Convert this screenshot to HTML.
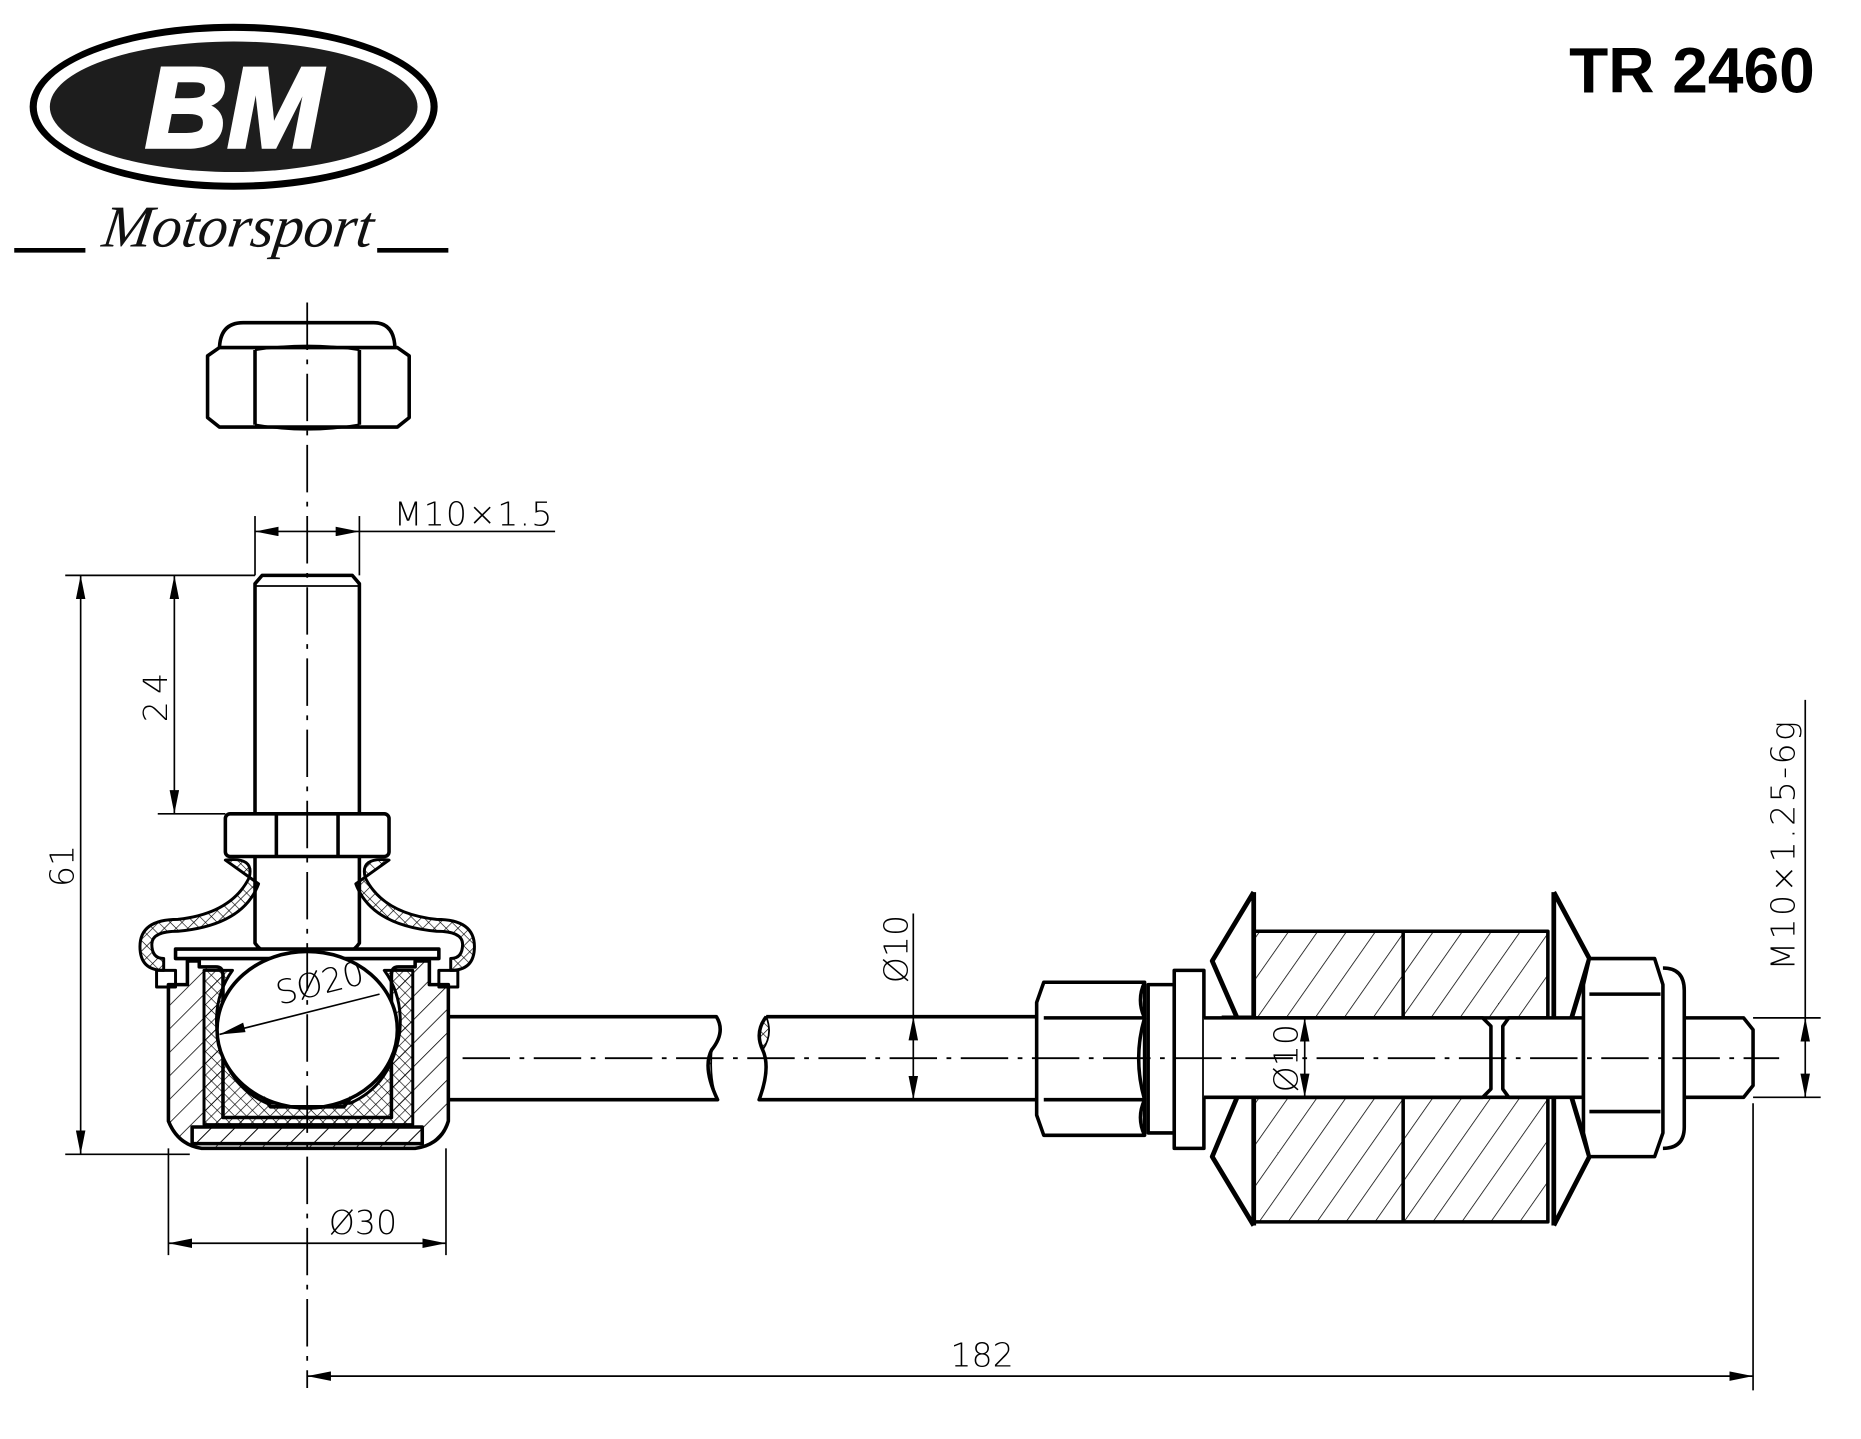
<!DOCTYPE html>
<html><head><meta charset="utf-8"><style>
html,body{margin:0;padding:0;background:#fff;}
svg{display:block;}
text{font-family:"DejaVu Sans","Liberation Sans",sans-serif;}
</style></head><body>
<svg width="1861" height="1439" viewBox="0 0 1569 1213" preserveAspectRatio="none" xmlns="http://www.w3.org/2000/svg">
<defs>
<pattern id="h" patternUnits="userSpaceOnUse" width="14" height="14" patternTransform="rotate(45)"><line x1="0" y1="0" x2="0" y2="14" stroke="#000" stroke-width="1.3"/></pattern>
<pattern id="h2" patternUnits="userSpaceOnUse" width="20" height="20" patternTransform="rotate(35)"><line x1="0" y1="0" x2="0" y2="20" stroke="#000" stroke-width="1.3"/></pattern>
<pattern id="x" patternUnits="userSpaceOnUse" width="7" height="7" patternTransform="rotate(45)"><path d="M0 0V7M0 0H7" stroke="#000" stroke-width="1.1"/></pattern>
<marker id="a" viewBox="0 0 20 8" refX="20" refY="4" markerWidth="20" markerHeight="8" orient="auto-start-reverse" markerUnits="userSpaceOnUse"><path d="M0 0L20 4L0 8z" fill="#000"/></marker>
</defs>

<!-- Logo -->
<ellipse cx="197" cy="90" rx="172" ry="70" fill="#000"/>
<ellipse cx="197" cy="90" rx="166" ry="64" fill="#fff"/>
<ellipse cx="197" cy="90" rx="155" ry="55" fill="#1d1d1d"/>
<text x="197" y="124" text-anchor="middle" font-size="96" font-weight="bold" font-style="italic" fill="#fff" stroke="#fff" stroke-width="3" style="font-family:'Liberation Sans',sans-serif">BM</text>
<text x="200" y="208" text-anchor="middle" font-size="50" font-style="italic" fill="#111" style="font-family:'Liberation Serif',serif" transform="skewX(-8) translate(28,0)">Motorsport</text>
<line x1="12" y1="211" x2="72" y2="211" stroke="#000" stroke-width="4"/>
<line x1="318" y1="211" x2="378" y2="211" stroke="#000" stroke-width="4"/>
<text x="1530" y="78" text-anchor="end" font-size="54" font-weight="bold" style="font-family:'Liberation Sans',sans-serif">TR 2460</text>

<g fill="none" stroke="#000" stroke-width="3" stroke-linejoin="round">
<path d="M185 295 Q185 272 205 272 H315 Q333 272 333 295"/>
<path d="M175 300 L185 293 H335 L345 300 V352 L335 360 H185 L175 352Z" fill="#fff"/>
<path d="M215 295 V358 M303 295 V358"/>
<path d="M215 295 Q259 288 303 295 M215 358 Q259 366 303 358" stroke-width="2"/>
<path d="M215 686 V492 L221 485 H297 L303 492 V686"/>
<line x1="215" y1="494" x2="303" y2="494" stroke-width="1.5"/>
<rect x="190" y="686" width="138" height="36" rx="4"/>
<line x1="233" y1="686" x2="233" y2="722"/><line x1="285" y1="686" x2="285" y2="722"/>
<path d="M215 722 V795 Q222 805 235 806 M303 722 V795 Q296 805 283 806"/>
<path d="M190 725 Q215 722 210 740 Q195 770 150 775 Q118 775 118 798 Q118 818 138 818 V808 Q128 808 128 796 Q128 785 150 785 Q205 780 218 745 Z" fill="url(#x)" stroke-width="2.5"/>
<path d="M328 725 Q303 722 308 740 Q323 770 368 775 Q400 775 400 798 Q400 818 380 818 V808 Q390 808 390 796 Q390 785 368 785 Q313 780 300 745 Z" fill="url(#x)" stroke-width="2.5"/>
<path d="M142 830 V945 Q150 965 170 968 H350 Q372 965 378 945 V830 H362 V810 H350 V815 H336 Q330 815 330 822 V942 H188 V822 Q188 815 182 815 H168 V810 H158 V830Z" fill="url(#h)"/>
<path d="M148 800 H370 V808 H148Z" fill="#fff"/>
<path d="M172 818 H196 Q180 840 183 870 Q190 915 225 930 H295 Q330 915 337 870 Q340 840 324 818 H348 V948 H172Z" fill="url(#x)" stroke-width="2.5"/>
<ellipse cx="259" cy="868" rx="76" ry="66" fill="#fff"/>
<path d="M222 925 L228 933 H290 L296 925" />
<path d="M162 950 H356 V964 H162Z" fill="url(#h)"/>
<path d="M132 818 H148 V832 H132Z M370 818 H386 V832 H370Z" stroke-width="2.5"/>
<path d="M378 857 H604 Q612 870 600 885 Q592 900 605 927 H378"/>
<path d="M646 857 Q636 870 643 885 Q650 900 640 927 H876 M646 857 H876"/>
<path d="M600 885 Q592 900 605 927 Q598 912 600 885Z" fill="url(#x)" stroke-width="1.5"/>
<path d="M646 857 Q636 870 643 885 Q652 872 646 857Z" fill="url(#x)" stroke-width="1.5"/>
<path d="M880 828 H965 V957 H880 L874 940 V845Z" fill="#fff"/>
<path d="M880 858 H965 M880 927 H965" />
<path d="M965 828 Q958 843 965 858 M965 858 Q955 892 965 927 M965 927 Q958 942 965 957"/>
<rect x="968" y="830" width="22" height="125" fill="#fff"/>
<rect x="990" y="818" width="25" height="150" fill="#fff"/>
<rect x="1057" y="785" width="248" height="73" fill="url(#h2)"/>
<rect x="1057" y="925" width="248" height="105" fill="url(#h2)"/>
<line x1="1183" y1="785" x2="1183" y2="858"/><line x1="1183" y1="925" x2="1183" y2="1030"/>
<path d="M1057 752 V858 L1030 858 M1057 752 L1022 810 L1043 858" stroke-width="4"/>
<path d="M1057 1033 V925 M1057 1033 L1022 975 L1043 925" stroke-width="4"/>
<path d="M1310 752 V858 M1310 752 L1340 808 L1325 858" stroke-width="4"/>
<path d="M1310 1033 V925 M1310 1033 L1340 975 L1325 925" stroke-width="4"/>
<path d="M1015 858 H1250 L1257 865 V918 L1250 925 H1015" fill="#fff"/>
<path d="M1272 858 H1335 V925 H1272 L1267 918 V865Z" fill="#fff"/>
<path d="M1340 808 H1395 L1402 830 V955 L1395 975 H1340 L1335 955 V830Z" fill="#fff"/>
<path d="M1340 838 H1400 M1340 937 H1400"/>
<path d="M1402 816 Q1420 816 1420 835 V950 Q1420 968 1402 968"/>
<path d="M1420 858 H1470 L1478 868 V915 L1470 925 H1420"/>
</g>

<g stroke="#000" stroke-width="1.5" stroke-dasharray="40 8 4 8" fill="none">
<line x1="259" y1="255" x2="259" y2="1170"/>
<line x1="390" y1="892" x2="1500" y2="892"/>
</g>

<g stroke="#000" stroke-width="1.4" fill="none">
<line x1="215" y1="435" x2="215" y2="485"/><line x1="303" y1="435" x2="303" y2="485"/>
<line x1="215" y1="448" x2="259" y2="448" marker-start="url(#a)"/><line x1="259" y1="448" x2="303" y2="448" marker-end="url(#a)"/>
<line x1="303" y1="448" x2="468" y2="448"/>
<line x1="55" y1="485" x2="215" y2="485"/><line x1="55" y1="973" x2="160" y2="973"/>
<line x1="68" y1="485" x2="68" y2="973" marker-start="url(#a)" marker-end="url(#a)"/>
<line x1="133" y1="686" x2="190" y2="686"/>
<line x1="147" y1="485" x2="147" y2="686" marker-start="url(#a)" marker-end="url(#a)"/>
<line x1="142" y1="968" x2="142" y2="1058"/><line x1="376" y1="968" x2="376" y2="1058"/>
<line x1="142" y1="1048" x2="376" y2="1048" marker-start="url(#a)" marker-end="url(#a)"/>
<line x1="1478" y1="930" x2="1478" y2="1172"/>
<line x1="259" y1="1160" x2="1478" y2="1160" marker-start="url(#a)" marker-end="url(#a)"/>
<line x1="770" y1="857" x2="770" y2="927" marker-start="url(#a)" marker-end="url(#a)"/>
<line x1="770" y1="770" x2="770" y2="857"/>
<line x1="1100" y1="858" x2="1100" y2="925" marker-start="url(#a)" marker-end="url(#a)"/>
<line x1="1478" y1="858" x2="1535" y2="858"/><line x1="1478" y1="925" x2="1535" y2="925"/>
<line x1="1522" y1="858" x2="1522" y2="925" marker-start="url(#a)" marker-end="url(#a)"/>
<line x1="1522" y1="590" x2="1522" y2="858"/>
<line x1="185" y1="872" x2="320" y2="838"/>
</g>
<path d="M185 872 L205 862 L207 870Z" fill="#000"/>

<g font-size="28" fill="#000" style="font-weight:200">
<text x="332" y="443" style="letter-spacing:1px">M10×1.5</text>
<text transform="translate(62,730) rotate(-90)" text-anchor="middle">61</text>
<text transform="translate(141,585) rotate(-90)" text-anchor="middle" style="letter-spacing:6px">24</text>
<text x="306" y="1040" text-anchor="middle">Ø30</text>
<text x="828" y="1152" text-anchor="middle">182</text>
<text transform="translate(765,800) rotate(-90)" text-anchor="middle">Ø10</text>
<text transform="translate(1094,892) rotate(-90)" text-anchor="middle">Ø10</text>
<text transform="translate(1513,712) rotate(-90)" text-anchor="middle" style="letter-spacing:2px">M10×1.25-6g</text>
<text transform="translate(272,838) rotate(-14)" text-anchor="middle">SØ20</text>
</g>
</svg>
</body></html>
